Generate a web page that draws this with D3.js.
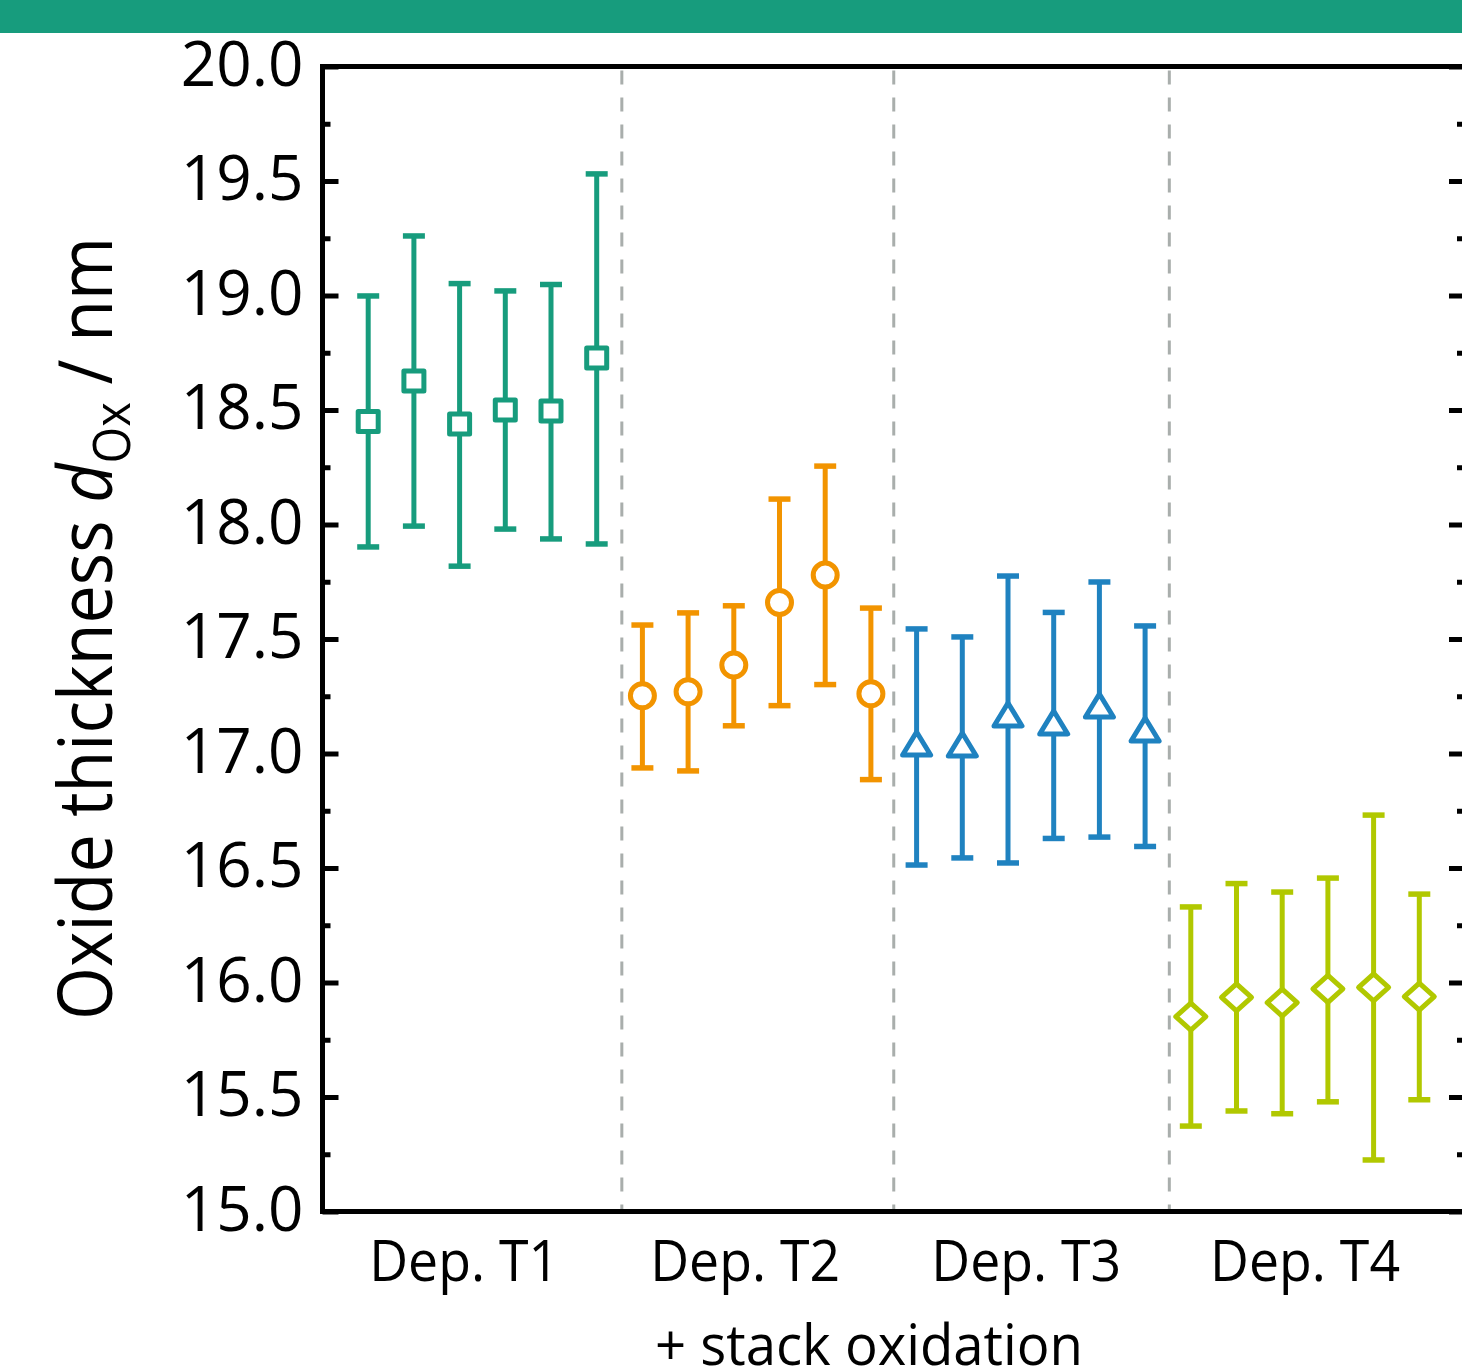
<!DOCTYPE html>
<html lang="en">
<head>
  <meta charset="UTF-8">
  <title>Oxide thickness</title>
  <script src="https://d3js.org/d3.v7.min.js"></script>
  <style>
      body {
          margin: 0;
          padding: 0;
          overflow: hidden;
          background: #fff;
          font-family: 'Open Sans', sans-serif;
      }
      svg { display: block; }
  </style>
</head>
<body>
  <svg width="1462" height="1371"></svg>
  <script>
      // data
      const groups = ["Dep. T1", "Dep. T2", "Dep. T3", "Dep. T4"];
      const subtitle = "+ stack oxidation";

      const meanT1  = [18.450, 18.627, 18.439, 18.500, 18.496, 18.727];
      const upperT1 = [18.998, 19.260, 19.052, 19.020, 19.048, 19.531];
      const lowerT1 = [17.902, 17.993, 17.818, 17.980, 17.937, 17.915];

      const meanT2  = [17.252, 17.270, 17.386, 17.659, 17.779, 17.261];
      const upperT2 = [17.561, 17.614, 17.645, 18.111, 18.255, 17.635];
      const lowerT2 = [16.937, 16.924, 17.121, 17.209, 17.301, 16.886];

      const meanT3  = [17.037, 17.033, 17.164, 17.129, 17.203, 17.098];
      const upperT3 = [17.544, 17.509, 17.775, 17.616, 17.749, 17.557];
      const lowerT3 = [16.513, 16.544, 16.522, 16.629, 16.635, 16.594];

      const meanT4  = [15.851, 15.935, 15.912, 15.972, 15.979, 15.938];
      const upperT4 = [16.330, 16.432, 16.395, 16.456, 16.731, 16.386];
      const lowerT4 = [15.373, 15.439, 15.427, 15.479, 15.225, 15.488];

      const yTicks = [15.0, 15.5, 16.0, 16.5, 17.0, 17.5, 18.0, 18.5, 19.0, 19.5, 20.0];
      const yMinor = d3.range(15.25, 20, 0.5);
      const separators = [5.55, 11.5, 17.53];   // in sample-index units
      const labelPos = [2.1, 8.25, 14.4, 20.5];  // label centres in sample-index units

      const colors = ["#179c7d", "#f29400", "#1f82c0", "#b1c800"];
      const shapes = ["square", "circle", "triangle", "diamond"];

      const series = [
          { mean: meanT1, upper: upperT1, lower: lowerT1 },
          { mean: meanT2, upper: upperT2, lower: lowerT2 },
          { mean: meanT3, upper: upperT3, lower: lowerT3 },
          { mean: meanT4, upper: upperT4, lower: lowerT4 }
      ];

      const points = [];
      series.forEach((s, g) => {
          s.mean.forEach((m, k) => {
              points.push({ idx: g * 6 + k, g: g, mean: m, upper: s.upper[k], lower: s.lower[k] });
          });
      });

      const svg = d3.select("svg");
      const plotLeft = 322.5, plotRight = 1465, plotTop = 66.5, plotBottom = 1211.5;

      const x = d3.scaleLinear().domain([-1, 24]).range([plotLeft, plotRight]);
      const y = d3.scaleLinear().domain([15, 20]).range([plotBottom, plotTop]);

      // header bar
      svg.append("rect")
          .attr("x", 0).attr("y", 0)
          .attr("width", 1462).attr("height", 33)
          .attr("fill", "#179c7d");

      // group separators
      svg.append("g").selectAll("line")
          .data(separators)
          .join("line")
          .attr("x1", d => x(d)).attr("x2", d => x(d))
          .attr("y1", plotTop + 4).attr("y2", plotBottom)
          .attr("stroke", "#a9aeac")
          .attr("stroke-width", 3)
          .attr("stroke-dasharray", "14 13");

      // y axes (left with labels, right mirrored)
      const leftAxis = d3.axisLeft(y).tickValues(yTicks).tickSize(-16).tickPadding(19)
          .tickFormat(d3.format(".1f"));
      const gl = svg.append("g").attr("transform", `translate(${plotLeft},0)`).call(leftAxis);
      gl.select(".domain").remove();
      gl.selectAll(".tick line").attr("stroke", "#000").attr("stroke-width", 5);
      gl.selectAll(".tick text")
          .attr("font-family", "'Open Sans', sans-serif")
          .attr("font-size", 62)
          .attr("fill", "#000")
          .attr("dy", "0.3em");

      const gmin = svg.append("g").attr("transform", `translate(${plotLeft},0)`)
          .call(d3.axisLeft(y).tickValues(yMinor).tickSize(-8).tickFormat(""));
      gmin.select(".domain").remove();
      gmin.selectAll(".tick line").attr("stroke", "#000").attr("stroke-width", 5);

      const gr = svg.append("g").attr("transform", `translate(${plotRight},0)`)
          .call(d3.axisRight(y).tickValues(yTicks).tickSize(-16).tickFormat(""));
      gr.select(".domain").remove();
      gr.selectAll(".tick line").attr("stroke", "#000").attr("stroke-width", 5);
      const grm = svg.append("g").attr("transform", `translate(${plotRight},0)`)
          .call(d3.axisRight(y).tickValues(yMinor).tickSize(-8).tickFormat(""));
      grm.select(".domain").remove();
      grm.selectAll(".tick line").attr("stroke", "#000").attr("stroke-width", 5);

      // frame
      svg.append("rect")
          .attr("x", plotLeft).attr("y", plotTop)
          .attr("width", plotRight - plotLeft).attr("height", plotBottom - plotTop)
          .attr("fill", "none")
          .attr("stroke", "#000")
          .attr("stroke-width", 5);

      // error bars
      const eb = svg.append("g")
          .attr("stroke-width", 5)
          .attr("fill", "none");
      const capW = 11;
      points.forEach(p => {
          const cx = x(p.idx), c = colors[p.g];
          eb.append("line")
              .attr("x1", cx).attr("x2", cx)
              .attr("y1", y(p.upper)).attr("y2", y(p.lower))
              .attr("stroke", c);
          [p.upper, p.lower].forEach(v => {
              eb.append("line")
                  .attr("x1", cx - capW).attr("x2", cx + capW)
                  .attr("y1", y(v)).attr("y2", y(v))
                  .attr("stroke", c)
                  .attr("stroke-width", 5.5);
          });
      });

      // markers
      const circlePath = d3.path();
      circlePath.arc(0, 0, 12, 0, 2 * Math.PI);
      const shapePath = {
          square: "M-10,-10H10V10H-10Z",
          circle: circlePath.toString() + "Z",
          triangle: "M0,-13L14,10L-14,10Z",
          diamond: "M0,-13.5L15,0L0,13.5L-15,0Z"
      };

      svg.append("g").selectAll("path.marker")
          .data(points)
          .join("path")
          .attr("class", "marker")
          .attr("transform", d => `translate(${x(d.idx)},${y(d.mean)})`)
          .attr("d", d => shapePath[shapes[d.g]])
          .attr("fill", "#fff")
          .attr("stroke", d => colors[d.g])
          .attr("stroke-width", 5)
          .attr("stroke-linejoin", "round");

      // category labels
      svg.append("g").selectAll("text")
          .data(groups)
          .join("text")
          .attr("x", (d, i) => x(labelPos[i]))
          .attr("y", 1281)
          .attr("text-anchor", "middle")
          .attr("font-family", "'Open Sans', sans-serif")
          .attr("font-size", 56)
          .attr("textLength", 190)
          .attr("lengthAdjust", "spacingAndGlyphs")
          .text(d => d);

      svg.append("text")
          .attr("x", 869)
          .attr("y", 1365)
          .attr("text-anchor", "middle")
          .attr("font-family", "'Open Sans', sans-serif")
          .attr("font-size", 56)
          .attr("textLength", 428)
          .attr("lengthAdjust", "spacingAndGlyphs")
          .text(subtitle);

      // y axis title
      const titleG = svg.append("g");
      const title = titleG.append("text")
          .attr("text-anchor", "middle")
          .attr("font-family", "'Open Sans', sans-serif")
          .attr("font-size", 75);
      title.append("tspan").text("Oxide thickness ");
      title.append("tspan").attr("font-style", "italic").text("d");
      title.append("tspan").attr("font-size", 52).attr("dy", 18).text("Ox");
      title.append("tspan").attr("dy", -18).text(" / nm");
      const tw = title.node().getBBox().width;
      titleG.attr("transform", `translate(112,628.5) rotate(-90) scale(${783 / tw},1)`);
  </script>
</body>
</html>
